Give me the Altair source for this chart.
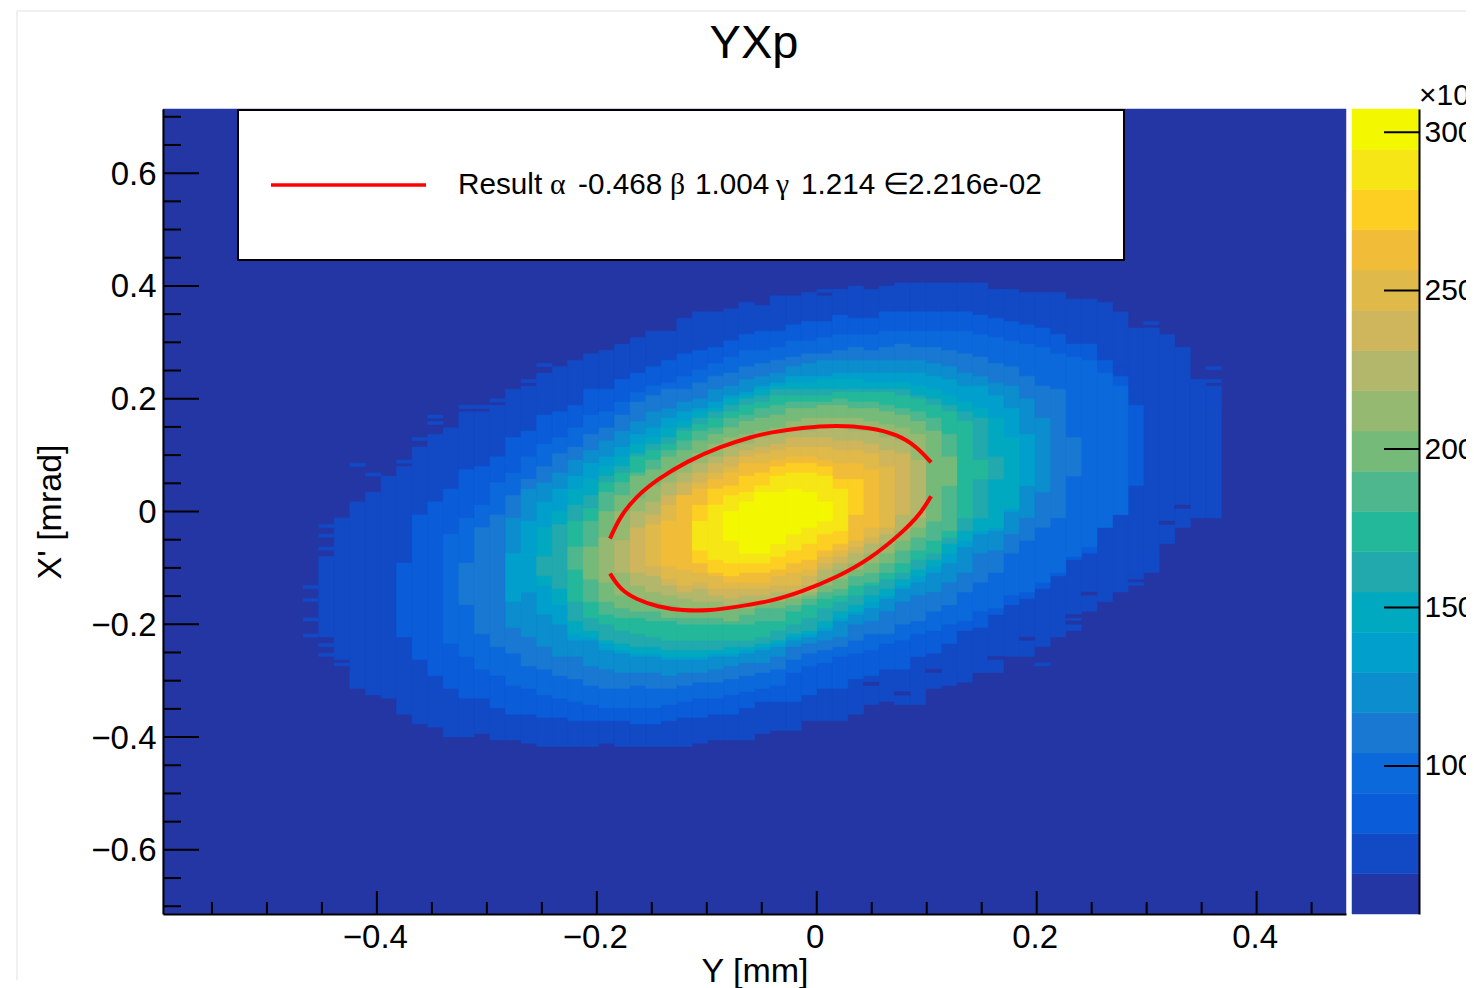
import altair as alt
import pandas as pd

# 2-D histogram geometry (bin sizes and axis range)
X_MIN, DX, N_COLS = -0.5945, 0.014155, 76
DY, HALF_ROWS = 0.00571, 125

COLORS = ["#2436A4", "#124AC6", "#0A5CD9", "#0C69DC", "#1878D2", "#0B8DCE", "#01A0CC",
          "#00A9C0", "#22A9AD", "#24B89B", "#4FB78D", "#76BA7A", "#95B970", "#B3B76B",
          "#CFB55B", "#E0B94B", "#F1BD39", "#FCCF22", "#F6E616", "#F3F800"]

# Contour of every colour level: first column, then top / bottom edge per column (in y bins)
L1_start = 10
L1_top = [-14,-2,3,6,11,14,20,24,26,31, 31,33,38,39,43,45,47,49,50,52, 54,56,56,60,62,62,63,65,64,67,
          67,68,67,69,70,69,70,71,71,71, 71,71,71,69,69,68,68,68,66,66, 65,62,57,57,55,51,41,39]
L1_bot = [-39,-46,-55,-57,-58,-63,-66,-67,-70,-70, -69,-71,-71,-72,-73,-73,-73,-73,-72,-73,
          -73,-73,-73,-73,-72,-71,-71,-71,-69,-68, -68,-65,-65,-65,-63,-60,-59,-60,-60,-55,
          -54,-53,-50,-50,-45,-45,-42,-39,-37,-31, -28,-25,-21,-19,-10,-5,-2,-2]
L2_start = 15
L2_top = [-16,-1,3,7,13, 14,17,23,25,30,31,33,38,38,41, 43,45,47,49,50,51,53,55,56,56,
          58,59,59,61,60,60,62,62,62,62, 62,62,61,60,59,58,57,55,52,52, 47,42,33]
L2_bot = [-39,-46,-51,-55,-58, -58,-61,-63,-63,-64,-64,-65,-65,-65,-65, -66,-66,-65,-64,-64,-63,-63,-61,-59,-59,
          -59,-57,-55,-55,-52,-51,-49,-49,-45,-44, -41,-37,-36,-32,-29,-27,-24,-20,-15,-13, -5,-1,8]
L3_start = 18
L3_top = [-7,-2, 2,9,12,17,21,23,26,30,31,34, 37,39,40,42,44,46,48,50,50,51,
          53,53,54,55,55,55,56,56,56,56, 56,56,55,54,53,52,51,49,48,47, 43,39]
L3_bot = [-41,-45, -49,-51,-54,-55,-57,-58,-59,-60,-61,-61, -61,-61,-60,-59,-58,-58,-57,-56,-55,-54,
          -50,-48,-47,-45,-44,-43,-41,-40,-38,-37, -35,-34,-31,-30,-26,-25,-22,-19,-14,-11, -5,-1]
L4_start = 19
L4_top = [-16, -5,-1,5,10,14,18,20,24,26,30, 34,36,38,38,40,42,43,45,46,47,
          48,49,49,50,51,50,51,52,51,51, 50,49,48,46,45,42,39,38,23]
L4_bot = [-29, -38,-42,-44,-48,-49,-51,-52,-54,-55,-55, -54,-55,-55,-54,-53,-53,-52,-51,-50,-49,
          -46,-44,-43,-42,-40,-38,-38,-35,-34,-31, -29,-25,-22,-19,-13,-9,-5,-2,11]
L5_start = 22
L5_top = [-2,7,9,12,16,19,22,25, 28,31,32,34,35,38,39,41,42,43,
          45,46,47,47,47,47,47,47,47,46, 45,43,42,40,39,35,29]
L5_bot = [-36,-39,-42,-45,-45,-48,-49,-50, -50,-50,-51,-50,-50,-49,-48,-47,-47,-45,
          -42,-41,-40,-39,-35,-34,-31,-28,-26,-25, -22,-19,-13,-12,-7,-2,6]
L6_start = 22
L6_top = [-13,-3,3,7,11,15,17,20, 24,26,29,31,32,34,36,37,39,40,
          42,42,42,43,43,43,43,43,43,42, 41,39,39,36,32,24]
L6_bot = [-28,-25,-32,-35,-40,-40,-43,-44, -45,-45,-46,-46,-46,-45,-45,-44,-43,-42,
          -40,-39,-37,-34,-32,-30,-27,-24,-22,-19, -16,-11,-7,-6,0,8]
L7_start = 24
L7_top = [-5,0,7,10,14,17, 21,23,26,28,31,32,35,36,38,39, 40,40,41,41,41,40,40,40,39,38, 36,34,32,29,23]
L7_bot = [-23,-29,-38,-39,-41,-43, -44,-44,-45,-45,-45,-44,-44,-43,-42,-41,
          -39,-38,-36,-33,-31,-28,-26,-23,-20,-17, -13,-9,-6,-5,1]
L8_start = 24
L8_top = [-14,-4,2,5,11,14, 18,21,23,26,29,31,33,35,36,38, 38,38,38,38,38,38,38,38,36,35, 33,31,29,17]
L8_bot = [-20,-24,-34,-37,-40,-41, -42,-42,-43,-43,-43,-43,-42,-42,-41,-40,
          -38,-37,-34,-31,-29,-26,-24,-21,-18,-15, -10,-6,-2,10]
L9_start = 26
L9_top = [-3,1,9,12, 17,19,21,25,27,29,31,33,34,36, 36,36,36,37,37,37,37,36,35,33, 31,28,16]
L9_bot = [-28,-33,-35,-37, -38,-39,-40,-40,-40,-40,-40,-40,-39,-37,
          -35,-33,-30,-28,-26,-23,-21,-19,-15,-13, -8,-2,10]
L10_start = 26
L10_top = [-11,-3,6,9, 12,16,19,22,25,26,29,30,32,33, 34,34,34,35,34,34,33,32,31,29, 24]
L10_bot = [-18,-28,-32,-33, -33,-34,-34,-35,-35,-35,-35,-35,-34,-34, -31,-29,-27,-26,-23,-22,-19,-16,-12,-9, -6]
L11_start = 27
L11_top = [-11,0,5, 11,13,17,19,22,24,26,28,29,30, 32,32,33,33,32,32,31,30,28,25, 17]
L11_bot = [-21,-28,-30, -31,-31,-33,-33,-33,-33,-34,-32,-30,-30, -29,-27,-25,-24,-20,-19,-16,-12,-8,-3, 8]
L12_start = 28
L12_top = [-8,0, 4,8,12,15,18,21,23,24,25,26, 28,29,29,29,29,28,27,26,24]
L12_bot = [-22,-26, -27,-28,-29,-30,-30,-30,-30,-30,-29,-28, -27,-26,-23,-21,-18,-16,-13,-9,-5]
L13_start = 29
L13_top = [-9, 0,3,9,12,15,17,20,21,23,24, 25,25,26,26,25,25,23,22,16]
L13_bot = [-19, -23,-25,-26,-27,-28,-28,-29,-28,-28,-27, -26,-25,-21,-18,-16,-13,-10,-6,-2]
L14_start = 30
L14_top = [-5,-1,5,9,12,15,17,19,20,21, 23,23,23,22,22,21,19,18]
L14_bot = [-19,-20,-23,-25,-24,-26,-27,-26,-26,-25, -25,-23,-18,-16,-13,-10,-7,-1]
L15_start = 31
L15_top = [-4,2,5,9,12,14,17,18,19, 20,20,20,19,19,18,14]
L15_bot = [-17,-21,-23,-22,-24,-24,-24,-24,-23, -23,-20,-16,-14,-11,-8,-5]
L16_start = 32
L16_top = [-3,5,7,10,12,15,15,16, 17,17,16,15,15,13]
L16_bot = [-17,-18,-19,-20,-22,-22,-22,-20, -19,-18,-14,-12,-9,-5]
L17_start = 34
L17_top = [2,7,8,11,12,14, 15,15,14,10,10]
L17_bot = [-16,-19,-20,-19,-19,-18, -16,-15,-12,-10,-1]
L18_start = 34
L18_top = [-3,2,5,6,8,11,12,12,11,7]
L18_bot = [-12,-15,-16,-16,-16,-14,-12,-10,-7,-6]
L19_start = 36
L19_top = [0,3,6,6,7,6,3]
L19_bot = [-9,-13,-13,-10,-7,-5,-3]

# Isolated one-bin cells just outside / inside the outer contour
speck_k = [12,13,15,16,17,17,19,20,21,23,24,42,63,61,67,66,67,67,67,67,9,9,9,9,10,10,10,11,10,10,64,63,63,62,62,56,52,52,51]
speck_r = [14,11,15,22,29,27,32,32,34,40,45,68,58,44,44,40,40,36,34,32,-24,-28,-34,-39,-5,-8,-12,-48,-42,-45,-9,-14,-17,-21,-23,-48,-47,-50,-51]
gap_k = [58,58,59,49,45,55,65,64,47,53]
gap_r = [-33,-35,-26,-50,-54,-40,1,-4,-57,-46]

LEVELS = [
    (1, L1_start, L1_top, L1_bot), (2, L2_start, L2_top, L2_bot), (3, L3_start, L3_top, L3_bot),
    (4, L4_start, L4_top, L4_bot), (5, L5_start, L5_top, L5_bot), (6, L6_start, L6_top, L6_bot),
    (7, L7_start, L7_top, L7_bot), (8, L8_start, L8_top, L8_bot), (9, L9_start, L9_top, L9_bot),
    (10, L10_start, L10_top, L10_bot), (11, L11_start, L11_top, L11_bot), (12, L12_start, L12_top, L12_bot),
    (13, L13_start, L13_top, L13_bot), (14, L14_start, L14_top, L14_bot), (15, L15_start, L15_top, L15_bot),
    (16, L16_start, L16_top, L16_bot), (17, L17_start, L17_top, L17_bot), (18, L18_start, L18_top, L18_bot),
    (19, L19_start, L19_top, L19_bot),
]

# Fit ellipse drawn in red (two arcs, the ends are cut where the contour stops)
upper_x = [-0.188,-0.179,-0.164,-0.145,-0.118,-0.088,-0.058,-0.043,-0.013,0.018,0.048,0.073,0.091,0.104]
upper_y = [-0.048,-0.009,0.027,0.057,0.089,0.115,0.133,0.140,0.149,0.153,0.149,0.137,0.115,0.087]
lower_x = [-0.188,-0.179,-0.164,-0.145,-0.122,-0.097,-0.073,-0.043,-0.013,0.018,0.048,0.078,0.094,0.104]
lower_y = [-0.110,-0.138,-0.156,-0.169,-0.176,-0.176,-0.169,-0.160,-0.142,-0.117,-0.085,-0.037,-0.005,0.027]

x_major = [-0.4,-0.2,0,0.2,0.4]
x_minor = [-0.55,-0.5,-0.45,-0.35,-0.3,-0.25,-0.15,-0.1,-0.05,0.05,0.1,0.15,0.25,0.3,0.35,0.45]
y_major = [-0.6,-0.4,-0.2,0,0.2,0.4,0.6]
y_minor = [-0.7,-0.65,-0.55,-0.5,-0.45,-0.35,-0.3,-0.25,-0.15,-0.1,-0.05,0.05,0.1,0.15,0.25,0.3,0.35,0.45,0.5,0.55,0.65,0.7]

cb_edges = [53.3,66.0,78.7,91.4,104.1,116.8,129.5,142.2,154.9,167.6,180.3,193.0,205.7,218.4,231.1,243.8,256.5,269.2,281.9,294.6,307.3]
cb_ticks = [100,150,200,250,300]

legend_parts = ["Result", "α", "-0.468", "β", "1.004", "γ", "1.214", "∈", "2.216e-02"]

W, H = 1183, 805
SANS = "Liberation Sans"
SERIF = "Liberation Serif"
X_DOM = [X_MIN, X_MIN + DX * N_COLS]
Y_DOM = [-HALF_ROWS * DY, HALF_ROWS * DY]
CB_DOM = [cb_edges[0], cb_edges[-1]]

rows = [dict(x=X_DOM[0], x2=X_DOM[1], y=Y_DOM[0], y2=Y_DOM[1], level=0)]
def cell(k, top, bot, level):
    return dict(x=X_MIN + k * DX, x2=X_MIN + (k + 1) * DX, y=bot * DY, y2=top * DY, level=level)
for level, start, tops, bots in LEVELS:
    for i, (t, b) in enumerate(zip(tops, bots)):
        rows.append(cell(start + i, t, b, level))
    if level == 1:
        rows += [cell(k, r + 1, r, 1) for k, r in zip(speck_k, speck_r)]
        rows += [cell(k, r + 1, r, 0) for k, r in zip(gap_k, gap_r)]
heat_df = pd.DataFrame(rows)

xs = alt.Scale(domain=X_DOM, nice=False, zero=False)
ys = alt.Scale(domain=Y_DOM, nice=False, zero=False)
cs = alt.Scale(domain=CB_DOM, nice=False, zero=False)
col = alt.Scale(domain=list(range(20)), range=COLORS)
common = dict(labelFont=SANS, labelFontSize=33, labelColor="black", titleFont=SANS, titleFontSize=34,
              titleFontWeight="normal", titleColor="black", grid=False, ticks=False,
              domainColor="black", domainWidth=2, zindex=1)
LABEL = "datum.value == 0 ? '0' : format(datum.value, '.1f')"
x_axis = alt.Axis(values=x_major, labelExpr=LABEL, labelPadding=7, labelOffset=-2, titlePadding=0,
                  labelFlush=False, **common)
y_axis = alt.Axis(values=y_major, labelExpr=LABEL, labelPadding=7, labelOffset=1, titlePadding=23,
                  labelFlush=False, **common)

def xenc(field):
    return alt.X(field, scale=xs, title="Y [mm]", axis=x_axis)

heat = alt.Chart(heat_df).mark_rect(strokeWidth=0.5).encode(
    x=xenc("x:Q"),
    x2="x2:Q",
    y=alt.Y("y:Q", scale=ys, title="X' [mrad]", axis=y_axis),
    y2="y2:Q",
    color=alt.Color("level:O", scale=col, legend=None),
    stroke=alt.Stroke("level:O", scale=col, legend=None),
)

def arc(xv, yv):
    d = pd.DataFrame({"x": xv, "y": yv})
    return alt.Chart(d).mark_line(color="#FF0000", strokeWidth=4, interpolate="basis").encode(
        x=xenc("x:Q"),
        y=alt.Y("y:Q", scale=ys, axis=None))

def vticks(vals, length):
    return alt.Chart(pd.DataFrame({"v": vals})).mark_rule(color="black", strokeWidth=2).encode(
        x=xenc("v:Q"), y=alt.value(H), y2=alt.value(H - length))

def hticks(vals, length):
    return alt.Chart(pd.DataFrame({"v": vals})).mark_rule(color="black", strokeWidth=2).encode(
        y=alt.Y("v:Q", scale=ys, axis=None), x=alt.value(0), x2=alt.value(length))

anchor = pd.DataFrame({"a": [0]})
legend_box = alt.Chart(anchor).mark_rect(fill="white", stroke="black", strokeWidth=2).encode(
    x=alt.value(75), x2=alt.value(961), y=alt.value(1), y2=alt.value(151))
legend_line = alt.Chart(anchor).mark_rule(color="#FF0000", strokeWidth=3.5).encode(
    x=alt.value(108), x2=alt.value(263), y=alt.value(76))

legend_offsets = [295, 387, 415, 507, 532, 613, 638, 720, 745]
legend_fonts = [SANS, SERIF, SANS, SERIF, SANS, SERIF, SANS, SERIF, SANS]
legend_text = [
    alt.Chart(anchor).mark_text(text=t, font=f, fontSize=29.7, color="black", align="left",
                                baseline="alphabetic").encode(x=alt.value(px), y=alt.value(85))
    for t, f, px in zip(legend_parts, legend_fonts, legend_offsets)
]

cb_df = pd.DataFrame({"lo": cb_edges[:-1], "hi": cb_edges[1:], "level": list(range(20))})
colorbar = alt.Chart(cb_df).mark_rect(strokeWidth=0.5).encode(
    x=alt.value(1189), x2=alt.value(1256),
    y=alt.Y("lo:Q", scale=cs, title=None,
            axis=alt.Axis(orient="right", offset=73, values=cb_ticks, labelFont=SANS, labelFontSize=30,
                          labelColor="black", labelPadding=5, ticks=False, grid=False, format="d",
                          domainColor="black", domainWidth=2, zindex=1)),
    y2="hi:Q",
    color=alt.Color("level:O", scale=col, legend=None),
    stroke=alt.Stroke("level:O", scale=col, legend=None),
)
cb_tick_marks = alt.Chart(pd.DataFrame({"v": cb_ticks})).mark_rule(color="black", strokeWidth=2).encode(
    y=alt.Y("v:Q", scale=cs, axis=None), x=alt.value(1221), x2=alt.value(1256))
cb_mult = alt.Chart(anchor).mark_text(text="×10", font=SANS, fontSize=30, color="black", align="left",
                                      baseline="alphabetic").encode(x=alt.value(1256), y=alt.value(-4))
title_mark = alt.Chart(anchor).mark_text(text="YXp", font=SANS, fontSize=47, color="black", align="center",
                                         baseline="alphabetic").encode(x=alt.value(591), y=alt.value(-51))

frame_v = alt.Chart(anchor).mark_rule(color="#F0F0F0", strokeWidth=2).encode(
    x=alt.value(-146), y=alt.value(-98), y2=alt.value(871))
frame_h = alt.Chart(anchor).mark_rule(color="#F0F0F0", strokeWidth=2).encode(
    x=alt.value(-146), x2=alt.value(1303), y=alt.value(-98))

chart = alt.layer(
    frame_v, frame_h, title_mark, heat, arc(upper_x, upper_y), arc(lower_x, lower_y),
    legend_box, legend_line, *legend_text,
    vticks(x_major, 23), vticks(x_minor, 12), hticks(y_major, 36), hticks(y_minor, 18),
    colorbar, cb_tick_marks, cb_mult,
).resolve_scale(y="independent").properties(
    width=W, height=H,
    autosize=alt.AutoSizeParams(type="none"),
    padding={"left": 155, "top": 101, "right": 120, "bottom": 74},
    background="white",
).configure_view(stroke=None)

chart.save("out.html", embed_options={"renderer": "svg", "actions": False})
